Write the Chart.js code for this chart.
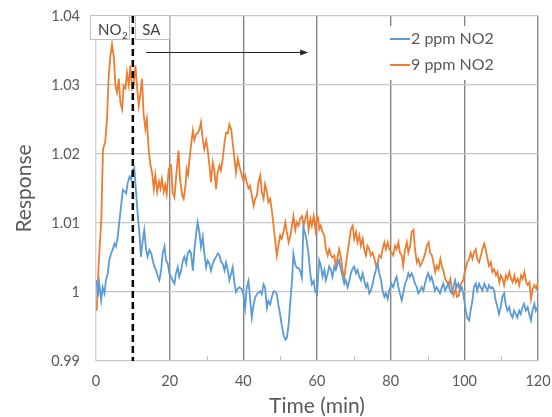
<!DOCTYPE html>
<html lang="en">
<head>
<meta charset="UTF-8">
<title>Response vs time</title>
<script src="https://cdn.jsdelivr.net/npm/chart.js@4"></script>
<style>
  html, body { margin: 0; padding: 0; background: #fff; }
</style>
</head>
<body>
<canvas id="grafico" width="552" height="417"></canvas>
<script>
// values (time in min, response)
const orangeTime = [
  0.2,0.7,1.45,1.9,2.5,3.0,3.45,3.9,4.35,4.9,5.25,5.7,6.2,6.6,7.1,7.5,8.0,8.4,8.9,9.3,9.8,10.2,10.7,11.1,11.6,12.0,12.5,12.9,13.4,13.8,14.3,14.8,15.2,15.7,16.1,16.6,17.1,17.5,17.9,18.4,18.8,19.2,
  19.75,20.4,20.8,21.3,21.7,22.4,22.8,23.4,23.8,24.3,24.6,25.0,25.4,25.8,26.3,26.7,27.2,27.6,28.1,28.5,29.0,29.4,29.9,30.3,30.8,31.2,31.7,32.1,32.6,33.0,33.5,33.9,34.4,34.9,35.3,35.8,36.2,36.7,37.1,37.6,38.0,38.5,38.9,
  39.6,40.0,40.5,40.9,41.4,41.8,42.3,42.8,43.2,43.7,44.1,44.6,45.0,45.5,45.9,46.4,46.8,47.3,47.7,48.2,48.6,49.1,49.6,50.0,50.4,50.9,51.4,51.8,52.3,52.7,53.2,53.6,54.1,54.5,55.0,55.4,55.9,56.4,56.8,57.3,57.7,58.2,58.6,59.1,59.6,
  60.0,60.3,60.6,61.0,61.5,62.0,62.4,62.9,63.3,63.8,64.2,64.7,65.1,65.6,66.0,66.5,66.9,67.4,67.8,68.3,68.7,69.2,69.7,70.1,70.6,71.0,71.5,71.9,72.4,72.8,73.3,73.7,74.2,74.6,75.1,75.5,76.0,76.5,76.9,77.4,77.8,78.3,78.7,79.2,79.6,
  80.3,80.7,81.2,81.6,82.1,82.5,83.0,83.4,83.9,84.4,84.8,85.3,85.7,86.2,86.6,87.1,87.5,88.0,88.5,88.9,89.4,89.8,90.3,90.7,91.2,91.6,92.1,92.5,93.0,93.5,93.9,94.4,94.8,95.3,95.7,96.2,96.6,97.1,97.6,98.0,98.5,98.9,99.4,99.8,
  100.1,100.8,101.3,101.7,102.2,102.6,103.1,103.5,104.0,104.5,104.9,105.4,105.8,106.3,106.7,107.2,107.6,108.1,108.6,109.0,109.5,109.9,110.4,110.8,111.3,111.7,112.2,112.7,113.1,113.6,114.0,114.5,114.9,115.4,115.8,116.3,116.8,117.2,117.7,118.1,118.6,119.0,119.5,120.0
];
const orangeResp = [
  0.9973,1.0038,1.0106,1.0207,1.0217,1.0251,1.0313,1.0342,1.0359,1.0338,1.0299,1.0289,1.0309,1.0275,1.0265,1.0299,1.0295,1.0318,1.0300,1.0328,1.0295,1.0300,1.0328,1.0300,1.0270,1.0285,1.0309,1.0260,1.0236,1.0250,1.0207,1.0183,1.0174,1.0149,1.0169,1.0145,1.0160,1.0150,1.0164,1.0145,1.0155,1.0142,
  1.0178,1.0183,1.0144,1.0137,1.0164,1.0205,1.0164,1.0140,1.0135,1.0154,1.0178,1.0170,1.0193,1.0212,1.0234,1.0220,1.0229,1.0230,1.0236,1.0246,1.0220,1.0207,1.0220,1.0207,1.0183,1.0159,1.0188,1.0178,1.0149,1.0173,1.0183,1.0176,1.0193,1.0217,1.0231,1.0230,1.0243,1.0236,1.0217,1.0193,1.0173,1.0193,1.0183,
  1.0169,1.0161,1.0169,1.0159,1.0150,1.0154,1.0140,1.0125,1.0135,1.0140,1.0159,1.0169,1.0145,1.0135,1.0156,1.0145,1.0130,1.0135,1.0120,1.0096,1.0077,1.0053,1.0070,1.0082,1.0077,1.0087,1.0101,1.0087,1.0072,1.0080,1.0096,1.0110,1.0090,1.0101,1.0096,1.0106,1.0110,1.0096,1.0106,1.0115,1.0090,1.0106,1.0096,1.0110,1.0090,
  1.0110,1.0108,1.0091,1.0096,1.0087,1.0082,1.0062,1.0053,1.0062,1.0053,1.0050,1.0053,1.0038,1.0050,1.0062,1.0050,1.0033,1.0019,1.0038,1.0057,1.0072,1.0091,1.0096,1.0077,1.0087,1.0072,1.0082,1.0067,1.0077,1.0062,1.0053,1.0067,1.0062,1.0053,1.0057,1.0050,1.0038,1.0043,1.0053,1.0050,1.0062,1.0072,1.0062,1.0072,1.0062,
  1.0057,1.0053,1.0067,1.0062,1.0072,1.0057,1.0053,1.0038,1.0062,1.0072,1.0057,1.0067,1.0087,1.0090,1.0062,1.0043,1.0048,1.0038,1.0043,1.0048,1.0057,1.0067,1.0072,1.0057,1.0053,1.0043,1.0029,1.0038,1.0033,1.0048,1.0038,1.0029,1.0019,1.0014,1.0010,1.0019,1.0005,0.9995,1.0005,0.9993,0.9995,1.0010,1.0014,1.0019,
  1.0029,1.0043,1.0048,1.0057,1.0048,1.0057,1.0062,1.0048,1.0043,1.0053,1.0062,1.0070,1.0062,1.0048,1.0038,1.0043,1.0029,1.0033,1.0024,1.0029,1.0014,1.0024,1.0019,1.0010,1.0024,1.0019,1.0029,1.0019,1.0014,1.0024,1.0014,1.0019,1.0010,1.0024,1.0019,1.0029,1.0014,1.0010,1.0014,0.9990,1.0005,1.0010,1.0005,1.0014
];
const blueTime = [
  0.2,0.5,0.9,1.4,1.8,2.3,2.7,3.2,3.6,4.1,4.5,5.0,5.4,5.9,6.3,6.8,7.3,7.7,8.2,8.6,9.1,9.5,10.0,10.4,10.9,11.3,11.8,12.2,12.7,13.1,13.6,14.0,14.5,15.0,15.4,15.9,16.3,16.8,17.2,17.7,18.1,18.6,19.0,19.5,
  19.9,20.4,20.8,21.3,21.7,22.2,22.6,23.1,23.6,24.0,24.5,24.9,25.4,25.8,26.3,26.7,27.2,27.6,28.1,28.5,29.0,29.4,29.9,30.3,30.8,31.2,31.7,32.1,32.6,33.1,33.5,34.0,34.4,34.9,35.3,35.8,36.2,36.7,37.1,37.6,38.0,38.5,38.9,
  39.6,40.0,40.5,40.9,41.4,41.9,42.3,42.8,43.2,43.7,44.1,44.6,45.0,45.5,45.9,46.4,46.8,47.3,47.7,48.2,48.6,49.1,49.5,50.0,50.4,50.9,51.4,51.8,52.3,52.7,53.2,53.6,54.1,54.5,55.0,55.4,55.9,56.3,56.8,57.2,57.7,58.2,58.6,59.1,59.5,60.0,
  60.6,61.1,61.5,62.0,62.4,62.9,63.3,63.8,64.2,64.7,65.1,65.6,66.0,66.5,67.0,67.4,67.8,68.3,68.8,69.2,69.7,70.1,70.6,71.0,71.5,71.9,72.4,72.8,73.3,73.7,74.2,74.6,75.1,75.5,76.0,76.5,76.9,77.4,77.8,78.3,78.7,79.2,79.6,
  80.2,80.7,81.2,81.6,82.1,82.5,83.0,83.4,83.9,84.3,84.8,85.2,85.7,86.1,86.6,87.1,87.5,88.0,88.4,88.9,89.3,89.8,90.2,90.7,91.1,91.6,92.0,92.5,93.0,93.4,93.9,94.3,94.8,95.2,95.7,96.1,96.6,97.0,97.5,97.9,98.4,98.8,99.3,99.7,
  100.4,100.8,101.3,101.7,102.2,102.6,103.1,103.5,104.0,104.4,104.9,105.4,105.8,106.3,106.7,107.2,107.6,108.1,108.5,109.0,109.4,109.9,110.3,110.8,111.2,111.7,112.2,112.6,113.1,113.5,114.0,114.4,114.9,115.3,115.8,116.2,116.7,117.2,117.6,118.1,118.5,119.0,119.4,119.9
];
const blueResp = [
  1.0017,0.9993,1.0012,0.9988,1.0007,0.9998,1.0017,1.0027,1.0046,1.0056,1.0061,1.0070,1.0066,1.0080,1.0100,1.0124,1.0148,1.0146,1.0143,1.0158,1.0167,1.0163,1.0177,1.0180,1.0143,1.0114,1.0085,1.0051,1.0075,1.0090,1.0061,1.0051,1.0061,1.0056,1.0046,1.0036,1.0032,1.0022,1.0017,1.0032,1.0056,1.0066,1.0046,1.0041,
  1.0027,1.0022,1.0017,1.0012,1.0027,1.0036,1.0022,1.0031,1.0046,1.0051,1.0041,1.0056,1.0060,1.0056,1.0031,1.0060,1.0085,1.0101,1.0085,1.0065,1.0080,1.0056,1.0036,1.0046,1.0041,1.0031,1.0041,1.0046,1.0051,1.0056,1.0053,1.0043,1.0041,1.0031,1.0043,1.0031,1.0017,1.0027,1.0036,1.0012,1.0000,1.0005,1.0007,
  1.0004,0.9997,0.9977,1.0006,1.0016,0.9987,0.9963,0.9982,0.9992,0.9997,0.9999,1.0001,0.9997,1.0011,1.0006,0.9977,0.9987,0.9982,0.9992,1.0001,1.0001,0.9997,0.9982,0.9967,0.9953,0.9938,0.9931,0.9933,0.9953,0.9982,1.0016,1.0055,1.0040,1.0035,1.0035,1.0031,1.0021,1.0094,1.0084,1.0074,1.0055,1.0026,1.0011,1.0016,1.0001,0.9997,
  1.0046,1.0037,1.0022,1.0032,1.0017,1.0027,1.0037,1.0032,1.0022,1.0037,1.0032,1.0041,1.0046,1.0032,1.0022,1.0012,1.0017,1.0007,1.0017,1.0027,1.0034,1.0037,1.0027,1.0032,1.0022,1.0017,1.0027,1.0017,1.0007,1.0012,0.9998,1.0002,1.0012,1.0022,1.0032,1.0041,1.0027,1.0017,1.0002,0.9993,0.9998,0.9990,1.0002,
  1.0012,1.0007,1.0017,1.0022,1.0007,0.9998,0.9988,0.9998,1.0012,1.0017,1.0027,1.0022,1.0027,1.0022,1.0012,1.0007,0.9998,1.0002,1.0007,1.0002,1.0012,1.0022,1.0027,1.0017,1.0022,1.0012,1.0002,1.0007,1.0002,0.9998,1.0007,1.0012,1.0002,1.0007,1.0012,1.0002,0.9998,1.0007,1.0017,1.0007,1.0012,1.0002,1.0007,0.9998,
  0.9973,0.9963,0.9959,0.9973,0.9988,1.0007,1.0012,1.0002,1.0012,1.0007,1.0002,1.0012,1.0007,1.0002,1.0010,1.0005,1.0007,1.0002,0.9988,0.9978,0.9968,0.9978,0.9993,0.9998,0.9983,0.9973,0.9978,0.9968,0.9963,0.9973,0.9968,0.9963,0.9973,0.9968,0.9978,0.9983,0.9973,0.9978,0.9968,0.9959,0.9973,0.9983,0.9973,0.9978
];

const seriesNames = ['2 ppm NO2', '9 ppm NO2'];
const seriesColors = ['#5b9bd5', '#ed7d31'];

// annotations (time in min / response units)
const switchTime = 10;      // NO2 -> SA
const arrowStart = 13.6;
const arrowEnd = 57.6;
const arrowLevel = 1.0348;

const txt = '#595959';
const font = 'Lato';

function pares(ts, vs) {
  const out = [];
  for (let i = 0; i < Math.min(ts.length, vs.length); i++) out.push({ x: ts[i], y: vs[i] });
  return out;
}

const extras = {
  id: 'extras',
  beforeDatasetsDraw(chart) {
    const { ctx, chartArea: a, scales: { x } } = chart;
    ctx.save();
    // little inner ticks on the odd tens
    ctx.strokeStyle = '#bfbfbf';
    ctx.lineWidth = 1;
    x.ticks.forEach(t => {
      if (t.value % 20 === 0) return;
      const px = Math.round(x.getPixelForValue(t.value)) + 0.5;
      ctx.beginPath();
      ctx.moveTo(px, a.bottom);
      ctx.lineTo(px, a.bottom - 5);
      ctx.stroke();
    });
    ctx.restore();
  },
  afterDatasetsDraw(chart) {
    const { ctx, chartArea: a, scales: { x, y } } = chart;
    ctx.save();

    // dashed switch line
    const sx = x.getPixelForValue(switchTime);
    ctx.strokeStyle = '#000';
    ctx.lineWidth = 2.5;
    ctx.setLineDash([7, 4]);
    ctx.beginPath();
    ctx.moveTo(sx, a.top);
    ctx.lineTo(sx, a.bottom);
    ctx.stroke();
    ctx.setLineDash([]);

    // label boxes
    const x0 = x.getPixelForValue(0), x20 = x.getPixelForValue(20);
    ctx.fillStyle = '#fff';
    ctx.strokeStyle = '#bfbfbf';
    ctx.lineWidth = 1;
    const bt = a.top - 1, bh = 24;
    ctx.fillRect(x0 - 6, bt, sx - 4 - (x0 - 6), bh);
    ctx.strokeRect(Math.round(x0 - 6) + 0.5, Math.round(bt) + 0.5, Math.round(sx - 4 - (x0 - 6)), bh);
    ctx.fillRect(sx + 2, bt, x20 - 1 - (sx + 2), bh);
    ctx.strokeRect(Math.round(sx + 2) + 0.5, Math.round(bt) + 0.5, Math.round(x20 - 1 - (sx + 2)), bh);

    ctx.fillStyle = '#404040';
    ctx.textBaseline = 'alphabetic';
    ctx.textAlign = 'left';
    ctx.font = '15px ' + font;
    ctx.fillText('NO', x0 + 2, bt + 20);
    const w = ctx.measureText('NO').width;
    ctx.font = '10px ' + font;
    ctx.fillText('2', x0 + 2 + w + 0.5, bt + 24);
    ctx.font = '15px ' + font;
    ctx.fillText('SA', sx + 9.5, bt + 20);

    // arrow
    const ay = Math.round(y.getPixelForValue(arrowLevel)) + 0.5;
    const ax1 = x.getPixelForValue(arrowStart), ax2 = x.getPixelForValue(arrowEnd);
    ctx.strokeStyle = '#262626';
    ctx.fillStyle = '#262626';
    ctx.lineWidth = 1.2;
    ctx.beginPath();
    ctx.moveTo(ax1, ay);
    ctx.lineTo(ax2 - 6, ay);
    ctx.stroke();
    ctx.beginPath();
    ctx.moveTo(ax2, ay);
    ctx.lineTo(ax2 - 8, ay - 3);
    ctx.lineTo(ax2 - 8, ay + 3);
    ctx.closePath();
    ctx.fill();

    // legend
    const lx = a.right - 155, ly = a.top + 10;
    ctx.fillStyle = '#fff';
    ctx.fillRect(lx, ly, 150, 54);
    ctx.font = '16px ' + font;
    ctx.textBaseline = 'middle';
    seriesNames.forEach((nome, i) => {
      const yy = ly + 13 + i * 26;
      ctx.strokeStyle = seriesColors[i];
      ctx.lineWidth = 2;
      ctx.beginPath();
      ctx.moveTo(lx + 7, yy);
      ctx.lineTo(lx + 27, yy);
      ctx.stroke();
      ctx.fillStyle = txt;
      ctx.fillText(nome, lx + 28, yy);
    });
    ctx.restore();
  }
};

new Chart(document.getElementById('grafico'), {
  type: 'line',
  data: {
    datasets: [
      { label: seriesNames[0], data: pares(blueTime, blueResp), borderColor: seriesColors[0], borderWidth: 1.8, pointRadius: 0, tension: 0 },
      { label: seriesNames[1], data: pares(orangeTime, orangeResp), borderColor: seriesColors[1], borderWidth: 1.8, pointRadius: 0, tension: 0 }
    ]
  },
  options: {
    responsive: false,
    animation: false,
    devicePixelRatio: 1,
    layout: { padding: { left: 0, right: 14, top: 16, bottom: 0 } },
    plugins: { legend: { display: false }, tooltip: { enabled: false } },
    scales: {
      x: {
        type: 'linear',
        min: 0, max: 120,
        afterFit(s) { s.height = 56; s.paddingLeft = 0; s.paddingRight = 0; },
        border: { display: false },
        grid: {
          drawTicks: false,
          lineWidth: 1.4,
          color(c) {
            const v = c.tick.value;
            if (v === 0) return '#d0d0d0';
            return v % 20 === 0 ? '#858585' : 'rgba(0,0,0,0)';
          }
        },
        ticks: {
          stepSize: 10, autoSkip: false, maxRotation: 0, padding: 12,
          color: txt, font: { family: font, size: 14.5 },
          callback: v => (v % 20 === 0 ? String(v) : '')
        },
        title: { display: true, text: 'Time (min)', color: txt, font: { family: font, size: 21, lineHeight: 1 }, padding: 0 }
      },
      y: {
        min: 0.99, max: 1.04,
        afterFit(s) { s.width = 96; s.paddingTop = 0; s.paddingBottom = 0; },
        border: { display: false },
        grid: { drawTicks: false, color: '#c6c6c6', lineWidth: 1.3 },
        ticks: {
          stepSize: 0.01, padding: 16, color: txt, font: { family: font, size: 14.5 },
          callback: v => String(Math.round(v * 100) / 100)
        },
        title: { display: true, text: 'Response', color: txt, font: { family: font, size: 21, lineHeight: 1.2 }, padding: { top: 12 } }
      }
    }
  },
  plugins: [extras]
});
</script>
</body>
</html>
